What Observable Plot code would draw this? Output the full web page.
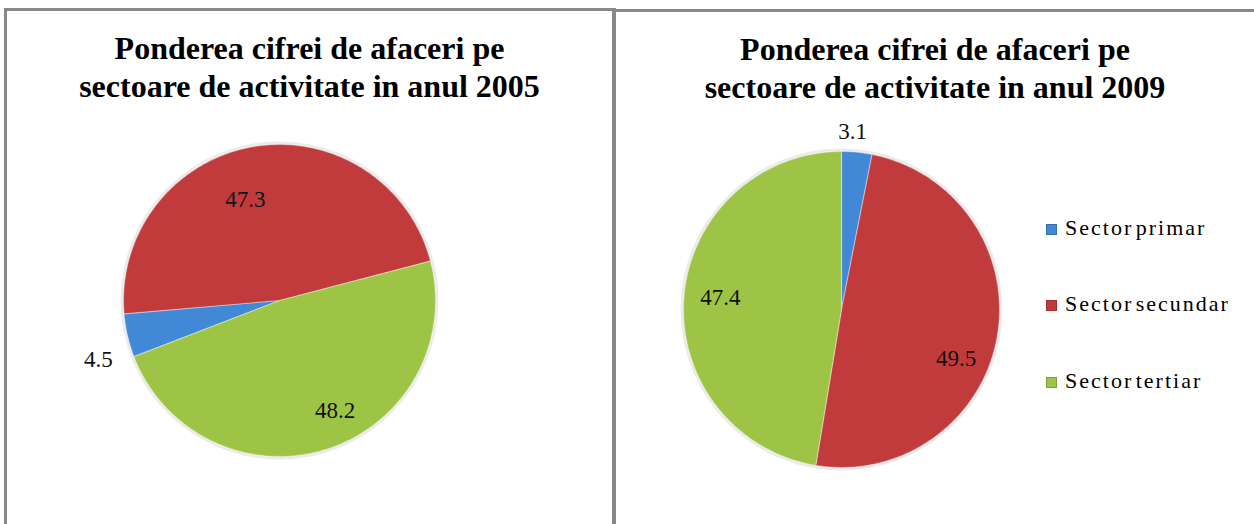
<!DOCTYPE html>
<html>
<head>
<meta charset="utf-8">
<script src="https://cdn.jsdelivr.net/npm/d3@7"></script>
<script src="https://cdn.jsdelivr.net/npm/@observablehq/plot@0.6"></script>
<style>
  html, body { margin: 0; padding: 0; background: #fff; }
  body { width: 1254px; height: 524px; position: relative; overflow: hidden; font-family: "Liberation Serif", "Times New Roman", Times, "DejaVu Serif", serif; }
  .panel { position: absolute; box-sizing: border-box; overflow: hidden; }
  .title { font-weight: bold; font-size: 32px; line-height: 38px; text-align: center; color: #000; white-space: nowrap; }
  .legend { position: absolute; font-size: 22px; letter-spacing: 2px; word-spacing: -5px; color: #000; }
  .legend .row { position: absolute; left: 0; white-space: nowrap; height: 24px; line-height: 24px; }
  .legend .sw { display: inline-block; width: 11px; height: 11px; margin-right: 8px; vertical-align: 0px; box-sizing: border-box; }
</style>
</head>
<body>
<div id="left" class="panel" style="left:4px;top:8px;width:612px;height:530px;border-top:3px solid #888;border-left:3px solid #888;border-right:4px solid #888;"></div>
<div id="right" class="panel" style="left:616px;top:9px;width:640px;height:530px;border-top:3px solid #888;"></div>
<div id="legend" class="legend" style="left:1046px;top:0px;"></div>
<script>
// ---- data ----
const categories = ["Sector primar", "Sector secundar", "Sector tertiar"];
const values2005 = [4.5, 47.3, 48.2];
const values2009 = [3.1, 49.5, 47.4];
const title2005 = ["Ponderea cifrei de afaceri pe", "sectoare de activitate in anul 2005"];
const title2009 = ["Ponderea cifrei de afaceri pe", "sectoare de activitate in anul 2009"];
const colors = ["#4189D6", "#C23B3C", "#9DC445"];

// ---- layout (pixels / degrees) ----
const serif = "'Liberation Serif', 'Times New Roman', Times, 'DejaVu Serif', serif";
const layout2005 = {width: 605, height: 413, titleTop: 18, titleWidth: 605, cx: 272, cy: 189, r: 156, start: 248.9,
  labelR: [1.22, 0.68, 0.79], labelShift: [-5, -9, -9]};
const layout2009 = {width: 640, height: 412, titleTop: 18, titleWidth: 638, cx: 225, cy: 197, r: 158, start: 0,
  labelR: [1.13, 0.79, 0.77], labelShift: [-2, 13, 1]};

function buildPie(values, lay) {
  const s = lay.start * Math.PI / 180;
  const arcs = d3.pie().sort(null).startAngle(s).endAngle(s + 2 * Math.PI)(values);
  const pts = [];
  const labels = [];
  arcs.forEach((p, i) => {
    pts.push({cat: categories[i], x: 0, y: 0});
    const n = Math.max(2, Math.ceil((p.endAngle - p.startAngle) / (Math.PI / 180)));
    for (let k = 0; k <= n; k++) {
      const a = p.startAngle + (p.endAngle - p.startAngle) * k / n;
      pts.push({cat: categories[i], x: Math.sin(a), y: Math.cos(a)});
    }
    const mid = (p.startAngle + p.endAngle) / 2 + lay.labelShift[i] * Math.PI / 180;
    labels.push({cat: categories[i], text: String(values[i]), x: lay.labelR[i] * Math.sin(mid), y: lay.labelR[i] * Math.cos(mid)});
  });
  return {pts, labels};
}

function makePanel(container, titleLines, values, lay) {
  const t = document.createElement("div");
  t.className = "title";
  t.style.position = "absolute";
  t.style.left = "0px";
  t.style.top = lay.titleTop + "px";
  t.style.width = lay.titleWidth + "px";
  t.innerHTML = titleLines.join("<br>");
  container.appendChild(t);

  const {pts, labels} = buildPie(values, lay);
  const chart = Plot.plot({
    width: lay.width,
    height: lay.height,
    margin: 0,
    style: {background: "transparent", overflow: "visible", fontFamily: serif},
    x: {domain: [-1, 1], range: [lay.cx - lay.r, lay.cx + lay.r], axis: null},
    y: {domain: [-1, 1], range: [lay.cy + lay.r, lay.cy - lay.r], axis: null},
    color: {domain: categories, range: colors},
    marks: [
      Plot.dot([{x: 0, y: 0}], {x: "x", y: "y", r: lay.r + 3, fill: "#b0b0b0", fillOpacity: 0.25, stroke: "none"}),
      Plot.line(pts, {x: "x", y: "y", z: "cat", fill: "cat", stroke: "#ffffff", strokeOpacity: 0.35, strokeWidth: 1.2, curve: "linear-closed"}),
      Plot.text(labels, {x: "x", y: "y", text: "text", fontSize: 23, fontFamily: serif, fill: "#111", textAnchor: "middle"})
    ]
  });
  chart.style.position = "absolute";
  chart.style.left = "0px";
  chart.style.top = (lay.titleTop + 82) + "px";
  container.appendChild(chart);
}

makePanel(document.getElementById("left"), title2005, values2005, layout2005);
makePanel(document.getElementById("right"), title2009, values2009, layout2009);

// legend
const legendTops = [216, 292, 369];
const lg = document.getElementById("legend");
categories.forEach((c, i) => {
  const row = document.createElement("div");
  row.className = "row";
  row.style.top = legendTops[i] + "px";
  const sw = document.createElement("span");
  sw.className = "sw";
  sw.style.background = colors[i];
  sw.style.border = "1px solid " + d3.color(colors[i]).darker(0.6);
  row.appendChild(sw);
  row.appendChild(document.createTextNode(c));
  lg.appendChild(row);
});
</script>
</body>
</html>
